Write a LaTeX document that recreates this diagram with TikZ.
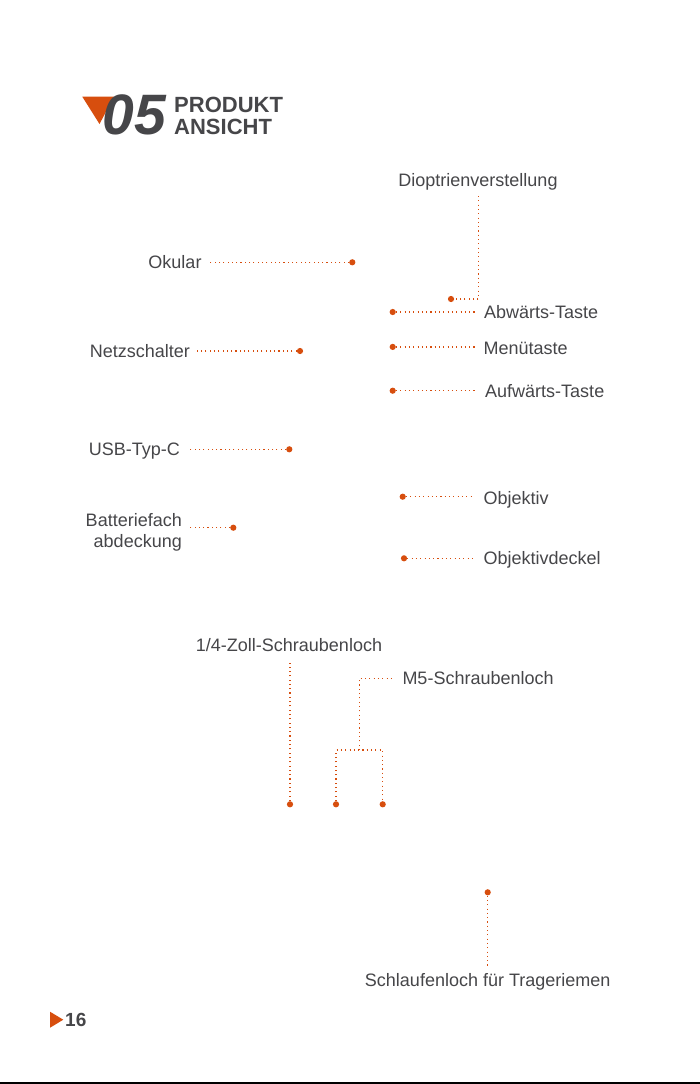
\documentclass[tikz,border=0pt]{standalone}
\usepackage{fontspec}
\setmainfont{Liberation Sans}
\definecolor{accent}{RGB}{215,78,14}
\definecolor{txtgray}{RGB}{70,70,73}
\tikzset{
  lbl/.style={font=\fontsize{18}{20}\selectfont, text=txtgray, inner sep=0pt, text height=12.9pt, text depth=0pt},
  dotn/.style={circle, fill=accent, inner sep=0pt, minimum size=6.2pt},
  leader/.style={draw=accent, line width=1.3pt, dash pattern=on 1.1pt off 3.2pt},
}
\begin{document}
\begin{tikzpicture}[x=1pt,y=-1pt]
\useasboundingbox (0,0) rectangle (700,1084);
\fill[white] (0,0) rectangle (700,1084);
% bottom rule
\fill[black] (0,1081.5) rectangle (700,1084);
% title
\fill[accent] (82.3,96.7) -- (114,96.7) -- (99.5,124) -- cycle;
\node[anchor=base west, inner sep=0pt, text=txtgray, font=\fontsize{57}{57}\selectfont\bfseries\itshape] (num) at (102.5,134.3) {05};
\node[anchor=base west, inner sep=0pt, text=txtgray, font=\fontsize{22}{22}\selectfont\bfseries] (t1) at (174,112.3) {PRODUKT};
\node[anchor=base west, inner sep=0pt, text=txtgray, font=\fontsize{22}{22}\selectfont\bfseries] (t2) at (174,134.3) {ANSICHT};
% page number
\fill[accent] (50,1011.7) -- (63.3,1019.7) -- (50,1027.7) -- cycle;
\node[anchor=base west, inner sep=0pt, text=txtgray, font=\fontsize{19}{19}\selectfont\bfseries] (pg) at (65,1026.7) {16};

% Dioptrienverstellung
\node[lbl] (dio) at (478,180) {Dioptrienverstellung};
\node[dotn] (diod) at (451,299) {};
\coordinate (diotop) at (478.5,196);
\draw[leader] (diotop) -- (diotop |- diod) -- (diod);

% Okular
\node[lbl, anchor=east] (okt) at (201.7,262) {Okular};
\node[dotn] (okd) at (352.3,262.3) {};
\draw[leader] (okd) -- ([xshift=8pt]okd -| okt.east);

% Abwaerts
\node[lbl, anchor=west] (abt) at (484,312) {Abwärts-Taste};
\node[dotn] (abd) at (392.7,312) {};
\draw[leader] (abd) -- ([xshift=-7pt]abd -| abt.west);

% Netzschalter
\node[lbl, anchor=east] (nzt) at (190,350.8) {Netzschalter};
\node[dotn] (nzd) at (300,351) {};
\draw[leader] (nzd) -- ([xshift=7pt]nzd -| nzt.east);

% Menuetaste
\node[lbl, anchor=west] (mnt) at (483.3,347.8) {Menütaste};
\node[dotn] (mnd) at (392.7,346.9) {};
\draw[leader] (mnd) -- ([xshift=-8pt]mnd -| mnt.west);

% Aufwaerts
\node[lbl, anchor=west] (aut) at (485,390.8) {Aufwärts-Taste};
\node[dotn] (aud) at (392.7,390.7) {};
\draw[leader] (aud) -- ([xshift=-9pt]aud -| aut.west);

% USB
\node[lbl, anchor=east] (usbt) at (180,449.3) {USB-Typ-C};
\node[dotn] (usbd) at (289.3,449.3) {};
\draw[leader] (usbd) -- ([xshift=8pt]usbd -| usbt.east);

% Batteriefach
\node[lbl, anchor=east] (bat1) at (182,520) {Batteriefach};
\node[lbl, anchor=east] (bat2) at (182,540.8) {abdeckung};
\node[dotn] (batd) at (233.3,527.7) {};
\draw[leader] (batd) -- ([xshift=6pt]batd -| bat1.east);

% Objektiv
\node[lbl, anchor=west] (obt) at (483.3,497.8) {Objektiv};
\node[dotn] (obd) at (402.7,496.7) {};
\draw[leader] (obd) -- ([xshift=-10pt]obd -| obt.west);

% Objektivdeckel
\node[lbl, anchor=west] (odt) at (483.3,558.3) {Objektivdeckel};
\node[dotn] (odd) at (404,558.3) {};
\draw[leader] (odd) -- ([xshift=-10pt]odd -| odt.west);

% 1/4-Zoll
\node[lbl] (qt) at (289,645) {1/4-Zoll-Schraubenloch};
\node[dotn] (q1) at (290,804.3) {};
\draw[leader] (q1) -- ([yshift=-11.5pt]q1 |- qt.south);

% M5
\node[lbl, anchor=west] (m5t) at (402.3,678.3) {M5-Schraubenloch};
\node[dotn] (m2) at (336,804.3) {};
\node[dotn] (m3) at (382.7,804.3) {};
\coordinate (bar) at (359.3,750);
\draw[leader] (m2) -- (m2 |- bar) -- (m3 |- bar) -- (m3);
\draw[leader] (bar) -- (bar |- m5t) -- ([xshift=-10pt]m5t.west);

% Schlaufenloch
\node[lbl] (st) at (487.7,980.3) {Schlaufenloch für Trageriemen};
\node[dotn] (sd) at (487.7,892.3) {};
\draw[leader] (sd) -- ([yshift=7pt]st.north);
\end{tikzpicture}
\end{document}
